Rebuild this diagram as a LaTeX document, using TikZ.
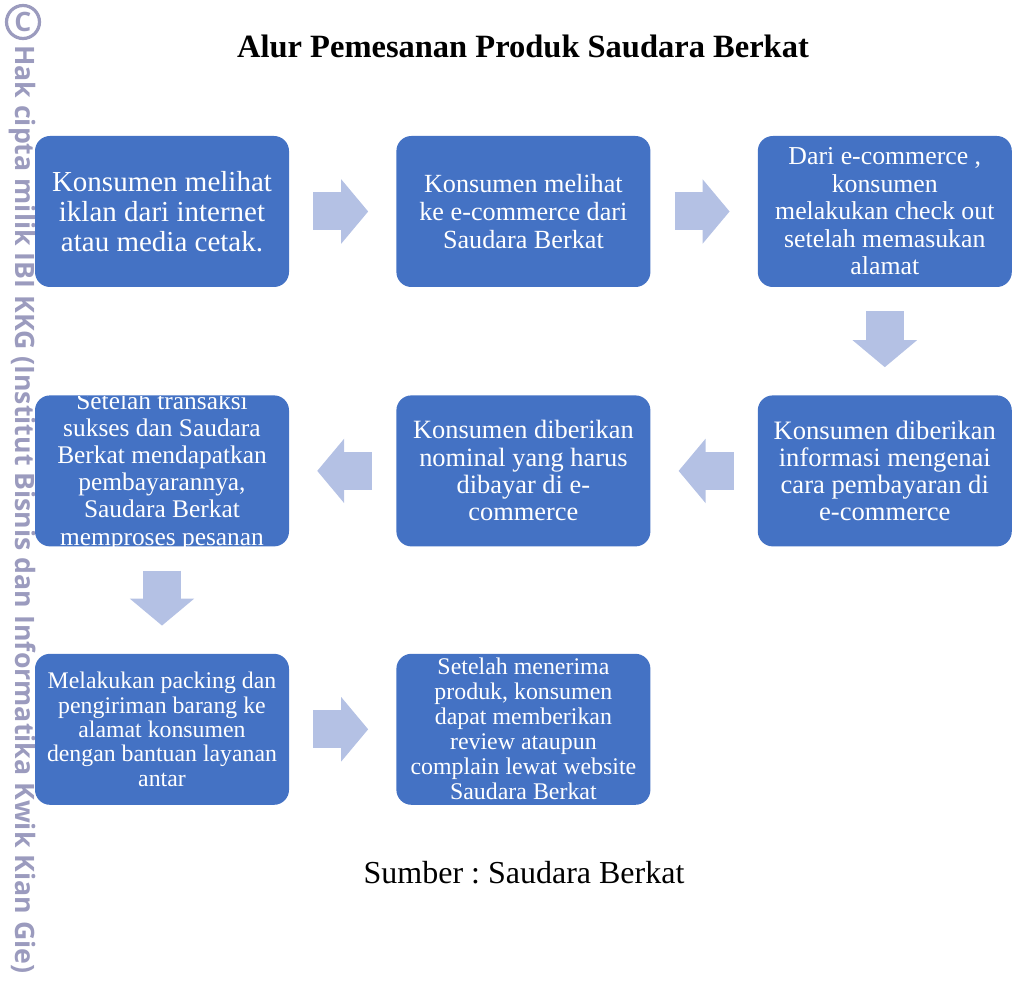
\documentclass[tikz,border=0pt]{standalone}
\usepackage{fontspec}
\setmainfont{Liberation Serif}
\newfontfamily\markfont{Open Sans}
\usetikzlibrary{positioning,arrows.meta}
\definecolor{boxblue}{RGB}{68,114,196}
\definecolor{arrowblue}{RGB}{180,193,228}
\definecolor{markgray}{RGB}{155,155,190}
\frenchspacing

\begin{document}
\begin{tikzpicture}
  [x=1pt,y=-1pt,
   step box/.style={node distance=107pt, rectangle, rounded corners=15pt, fill=boxblue, text=white, minimum width=254pt, minimum height=151pt, inner sep=0pt, align=center},
   flow/.style={-{Triangle[width=63pt,length=27pt]}, line width=38pt, arrowblue, shorten <=24pt, shorten >=28pt},
   owner text/.style={markgray, font=\markfont\bfseries\fontsize{26.7}{26.7}\selectfont}]

\useasboundingbox (0,0) rectangle (1013,984);

\node[owner text, circle, draw, line width=3.2pt, minimum size=33pt, inner sep=0pt] (copy) at (23,22) {C};
\node[owner text, rotate=-90, anchor=west, inner sep=0pt] (owner) at (23,45) {Hak cipta milik IBI KKG (Institut Bisnis dan Informatika Kwik Kian Gie)};

\node[anchor=base, font=\bfseries\fontsize{32.5}{39}\selectfont] (title) at (523,58) {Alur Pemesanan Produk Saudara Berkat};

\node[step box, font=\fontsize{29}{30}\selectfont] (1) at (162,211.5) {Konsumen melihat\\iklan dari internet\\atau media cetak.};
\node[step box, font=\fontsize{26.2}{28}\selectfont] (2) [right=of 1] {Konsumen melihat\\ke e-commerce dari\\Saudara Berkat};
\node[step box, font=\fontsize{25.8}{27.5}\selectfont] (3) [right=of 2] {Dari e-commerce ,\\konsumen\\melakukan check out\\setelah memasukan\\alamat};
\node[step box, font=\fontsize{26.6}{27.3}\selectfont] (6) [below=108pt of 3] {Konsumen diberikan\\informasi mengenai\\cara pembayaran di\\e-commerce};
\node[step box, font=\fontsize{26.4}{27.3}\selectfont] (5) [left=of 6] {Konsumen diberikan\\nominal yang harus\\dibayar di e-\\commerce};
\node[step box, path picture={
    \node[anchor=center, text=white, align=center, font=\fontsize{25.4}{27.2}\selectfont] at (path picture bounding box.center)
      {Setelah transaksi\\sukses dan Saudara\\Berkat mendapatkan\\pembayarannya,\\Saudara Berkat\\memproses pesanan};}] (4) [left=of 5] {};
\node[step box, font=\fontsize{23.8}{24.3}\selectfont] (7) [below=of 4] {Melakukan packing dan\\pengiriman barang ke\\alamat konsumen\\dengan bantuan layanan\\antar};
\node[step box, font=\fontsize{23.9}{25}\selectfont] (8) [right=of 7] {Setelah menerima\\produk, konsumen\\dapat memberikan\\review ataupun\\complain lewat website\\Saudara Berkat};

\path
  (1) edge [flow] (2)
  (2) edge [flow] (3)
  (3) edge [flow] (6)
  (6) edge [flow] (5)
  (5) edge [flow] (4)
  (4) edge [flow] (7)
  (7) edge [flow] (8);

\node[anchor=base, font=\fontsize{32}{38}\selectfont] (source) at (524,883) {Sumber : Saudara Berkat};

\end{tikzpicture}
\end{document}
